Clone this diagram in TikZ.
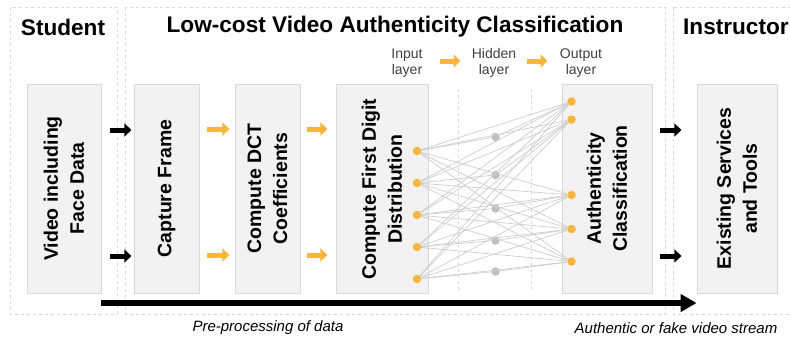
\documentclass[tikz,border=0pt]{standalone}
\usepackage{fontspec}
\setmainfont{Liberation Sans}
\usetikzlibrary{arrows.meta,calc}
\definecolor{boxfill}{HTML}{F2F2F2}
\definecolor{boxline}{HTML}{D9D9D9}
\definecolor{netorange}{HTML}{F9B53F}
\definecolor{netgray}{HTML}{BFBFBF}
\definecolor{wiregray}{HTML}{CFCFCF}

\begin{document}
\begin{tikzpicture}[x=1pt,y=-1pt,
    stage/.style={draw=boxline,fill=boxfill,line width=0.8pt,rotate=90,align=center,inner sep=0pt,
      minimum width=209pt,font=\bfseries\fontsize{19.5}{26}\selectfont},
    region/.style={draw=boxline,dashed,line width=0.6pt},
    title/.style={font=\bfseries\fontsize{22.6}{27}\selectfont},
    layer/.style={align=center,text=black!75,font=\fontsize{14}{16}\selectfont},
    caption/.style={font=\itshape\fontsize{15}{18}\selectfont},
    unit/.style={circle,fill=netorange,inner sep=0pt,minimum size=8.5pt},
    hidden/.style={circle,fill=netgray,inner sep=0pt,minimum size=8.5pt},
    wire/.style={draw=wiregray,line width=0.75pt},
    sep/.style={draw=boxline,dashed,line width=0.5pt},
    blk/.style={line width=5pt,-{Triangle[length=7pt,width=13pt]}},
    org/.style={blk,draw=netorange},
    stream/.style={line width=6pt,-{Triangle[length=16pt,width=17pt]}}]
    \clip (0,0) rectangle (790,341);

    % regions
    \draw[region] (10,7) rectangle (117,314);
    \draw[region] (125,7) rectangle (665,314);
    \draw[region] (673,7) rectangle (800,314);
    \node[title] (student) at (63,27) {Student};
    \node[title] (lowcost) at (395,27) {Low-cost Video Authenticity Classification};
    \node[title,anchor=west,inner sep=0pt] (instructor) at (683,27) {Instructor};

    % stages
    \node[stage,minimum height=74pt] (video) at (64,188.5) {Video including\\Face Data};
    \node[stage,minimum height=65pt] (capture) at (166.5,188.5) {Capture Frame};
    \node[stage,minimum height=65pt] (dct) at (267.5,188.5) {Compute DCT\\Coefficients};
    \node[stage,minimum height=92pt] (digit) at (382,189) {Compute First Digit\\Distribution};
    \node[stage,minimum height=90pt] (auth) at (607,188.5) {Authenticity\\Classification};
    \node[stage,minimum height=80pt] (existing) at (737,188.5) {Existing Services\\and Tools};

    % layer labels
    \node[layer] (inlab) at (407,63) {Input\\layer};
    \node[layer] (hidlab) at (494,63) {Hidden\\layer};
    \node[layer] (outlab) at (581,63) {Output\\layer};
    \draw[org] ($(inlab)!0.5!(hidlab)$) ++(-11,-2) -- ++(21,0);
    \draw[org] ($(hidlab)!0.5!(outlab)$) ++(-11,-2) -- ++(21,0);

    \draw[sep] (458,89) -- (458,290);
    \draw[sep] (531,89) -- (531,290);

    % network
    \node[unit] (i1) at (417,151) {};
    \node[unit] (i2) at (417,183) {};
    \node[unit] (i3) at (417,215) {};
    \node[unit] (i4) at (417,247) {};
    \node[unit] (i5) at (417,279) {};
    \node[hidden] (h1) at (495.5,137) {};
    \node[hidden] (h2) at (495.5,175) {};
    \node[hidden] (h3) at (495.5,208.5) {};
    \node[hidden] (h4) at (495.5,240.5) {};
    \node[hidden] (h5) at (495.5,271.5) {};
    \node[unit] (o1) at (571.5,101.5) {};
    \node[unit] (o2) at (571.5,119.5) {};
    \node[unit] (o3) at (571.5,195) {};
    \node[unit] (o4) at (571.5,229) {};
    \node[unit] (o5) at (571.5,261.5) {};
    \foreach \a in {1,...,5}
      \foreach \b in {1,...,5}
        \path[wire] (i\a) edge (o\b);
    \foreach \a in {1,...,5} {
      \path[wire] (i\a) edge (h\a);
      \path[wire] (h\a) edge (o\a);
    }

    % arrows
    \coordinate (rowA) at (0,130);
    \coordinate (rowB) at (0,256);
    \coordinate (flow) at (0,303);
    \foreach \r in {rowA,rowB} {
      \draw[blk] (video.south |- \r) ++(9,0) -- ++(21,0);
      \draw[org] (capture.south |- \r) ++(8,-1) -- ++(22,0);
      \draw[org] (dct.south |- \r) ++(7,-1) -- ++(20,0);
      \draw[blk] (auth.south |- \r) ++(8,0) -- ++(21,0);
    }
    \draw[stream] (video.south |- flow) -- (existing.north |- flow);

    \node[caption] (prep) at (268,328) {Pre-processing of data};
    \node[caption] (fake) at (676,328) {Authentic or fake video stream};
\end{tikzpicture}
\end{document}
